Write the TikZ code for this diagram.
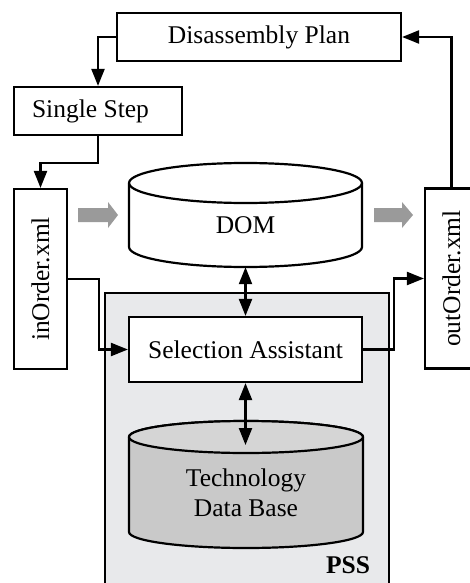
\documentclass[tikz,border=0pt]{standalone}
\usepackage{fontspec}
\setmainfont{Liberation Serif}
\usetikzlibrary{arrows.meta}
\definecolor{pssbg}{HTML}{E8E9EB}
\definecolor{dbbody}{HTML}{C9C9C9}
\definecolor{dbtop}{HTML}{D5D5D5}
\definecolor{blockarrow}{HTML}{9A9A9A}
\begin{document}
\begin{tikzpicture}[x=1pt,y=1pt,
  lw/.style={line width=2.2pt},
  txt/.style={font=\fontsize{25.5}{30}\selectfont},
  box/.style={draw, lw, fill=white, inner sep=0pt, txt},
  lbl/.style={inner sep=0pt, txt},
  arr/.style={lw, -{Triangle[length=17pt,width=13pt]}},
  darr/.style={lw, {Triangle[length=17pt,width=13pt]}-{Triangle[length=17pt,width=13pt]}},
  blk/.style={fill=blockarrow},
]
\useasboundingbox (0,0) rectangle (469,-583);

% PSS container
\node[draw, lw, fill=pssbg, minimum width=284pt, minimum height=320pt, inner sep=0pt, anchor=north west] (pss) at (104,-292) {};
\node[lbl, font=\fontsize{25.5}{30}\selectfont\bfseries] (psslbl) at (348,-565) {PSS};

% DOM cylinder
\path[draw, lw, fill=white] (129,-183) -- (129,-247)
  arc[start angle=180, end angle=360, x radius=116.5, y radius=20] -- (362,-183)
  arc[start angle=0, end angle=180, x radius=116.5, y radius=20] -- cycle;
\draw[lw] (129,-183) arc[start angle=180, end angle=360, x radius=116.5, y radius=20];
\node[inner sep=0pt, minimum width=233pt, minimum height=104pt] (dom) at (245.5,-215) {};
\node[lbl] (domtxt) at (245.5,-225) {DOM};

% Technology Data Base cylinder
\path[draw, lw, fill=dbbody] (129,-437) -- (129,-532)
  arc[start angle=180, end angle=360, x radius=117, y radius=16] -- (363,-437)
  arc[start angle=0, end angle=180, x radius=117, y radius=16] -- cycle;
\draw[lw, fill=dbtop] (246,-437) ellipse[x radius=117, y radius=16];
\node[lbl, align=center] (tdbtxt) at (246,-493) {Technology\\Data Base};
\coordinate (tdbin) at (246,-445);

% boxes
\node[box, minimum width=233pt, minimum height=65pt] (sa) at (245.5,-349.5) {Selection Assistant};
\node[box, minimum width=284pt, minimum height=48pt] (dp) at (259,-37) {Disassembly Plan};
\node[box, minimum width=168pt, minimum height=48pt] (ss) at (98,-111) {};
\node[lbl] (sstxt) at (90.5,-111) {Single Step};
\node[box, minimum width=52.5pt, minimum height=180pt] (in) at (40.5,-279) {\rotatebox{90}{inOrder.xml}};
\node[box, minimum width=53pt, minimum height=180pt] (out) at (451.5,-278.5) {\rotatebox{90}{outOrder.xml}};

% block arrows
\fill[blk] (78,-208) -- (108,-208) -- (108,-202) -- (118,-215) -- (108,-228) -- (108,-222) -- (78,-222) -- cycle;
\fill[blk] (374,-208) -- (402,-208) -- (402,-202) -- (413,-215) -- (402,-228) -- (402,-222) -- (374,-222) -- cycle;

% connectors
\draw[arr] (dp.west) -| (ss.north);
\draw[arr] (ss.south) -- ++(0,-27) -| (in.north);
\draw[arr] (out.north) |- (dp.east);
\draw[arr] (in.east) -- ++(31.5,0) |- (sa.west);
\draw[arr] (sa.east) -- ++(31,0) |- (out.west);
\draw[darr] (dom.south) -- (sa.north);
\draw[darr] (sa.south) -- (sa.south |- tdbin);
\end{tikzpicture}
\end{document}
